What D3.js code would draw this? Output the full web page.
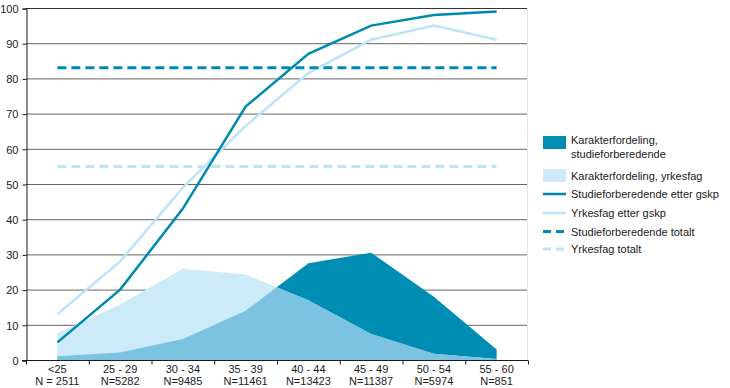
<!DOCTYPE html>
<html><head><meta charset="utf-8">
<script src="https://cdn.jsdelivr.net/npm/d3@7"></script>
<style>body{margin:0;background:#fff}svg{display:block}text{font-family:"Liberation Sans",Arial,sans-serif;fill:#1a1a1a}</style>
</head><body><svg id="c" width="730" height="388"></svg>
<script>
const categories = ["<25","25 - 29","30 - 34","35 - 39","40 - 44","45 - 49","50 - 54","55 - 60"];
const nLabels = ["N = 2511","N=5282","N=9485","N=11461","N=13423","N=11387","N=5974","N=851"];
const distStudie = [1.1, 2.1, 6, 14, 27.5, 30.5, 18, 3];
const distYrkes = [7.6, 15.8, 25.9, 24.3, 17, 7.4, 1.8, 0.3];
const studieEtter = [5, 20, 43, 72, 87, 95, 98, 99];
const yrkesEtter = [13, 28, 49, 66.5, 81.5, 91, 95, 91];
const studieTotalt = 83;
const yrkesTotalt = 55;
const yTicks = [0,10,20,30,40,50,60,70,80,90,100];

const C = {dark:"#008db3", light:"#cdeaf8", mid:"#7cc3e2", lineDark:"#0088b0", lineLight:"#bde3f6"};
const svg = d3.select("#c");
const x = d3.scaleBand().domain(categories).range([26, 528]);
const y = d3.scaleLinear().domain([0,100]).range([360, 8]);
const cx = d => x(d) + x.bandwidth()/2;

// gridlines
svg.append("g").selectAll("line").data(yTicks.filter(t=>t>0)).join("line")
  .attr("x1", 26).attr("x2", 528).attr("y1", d=>y(d)+0.5).attr("y2", d=>y(d)+0.5)
  .attr("stroke", d => d===100 ? "#333" : "#666").attr("stroke-width", 1);
svg.append("line").attr("x1",527.5).attr("x2",527.5).attr("y1",8).attr("y2",360).attr("stroke","#e4e4e4");

// areas
const area = arr => d3.area().x((d,i)=>cx(categories[i])).y0(y(0)).y1(d=>y(d))(arr);
svg.append("defs").append("clipPath").attr("id","clipDark").append("path").attr("d", area(distStudie));
svg.append("path").attr("d", area(distStudie)).attr("fill", C.dark);
svg.append("path").attr("d", area(distYrkes)).attr("fill", C.light);
svg.append("path").attr("d", area(distYrkes)).attr("fill", C.mid).attr("clip-path","url(#clipDark)");

// axes
const yAxis = d3.axisLeft(y).tickValues(yTicks).tickSize(4).tickPadding(4);
const gy = svg.append("g").attr("transform","translate(26.5,0.5)").call(yAxis);
gy.select(".domain").attr("stroke","#1a1a1a");
gy.selectAll(".tick line").attr("stroke","#1a1a1a");
gy.selectAll("text").attr("font-size",11).style("fill","#1a1a1a").attr("dy","0.35em");

const gx = svg.append("g").attr("transform","translate(0,360.5)");
gx.append("line").attr("x1",22).attr("x2",528).attr("stroke","#1a1a1a");
gx.selectAll("line.tk").data(d3.range(categories.length+1)).join("line").attr("class","tk")
  .attr("x1", i=>26.5 + i*x.step()).attr("x2", i=>26.5 + i*x.step()).attr("y1",0).attr("y2",4).attr("stroke","#1a1a1a");
const xl = gx.selectAll("text").data(categories).join("text")
  .attr("text-anchor","middle").attr("font-size",11).attr("x", d=>cx(d));
xl.append("tspan").attr("x", d=>cx(d)).attr("y", 12.5).text(d=>d);
xl.append("tspan").attr("x", d=>cx(d)).attr("y", 24.5).text((d,i)=>nLabels[i]);

// lines
const line = d3.line().x((d,i)=>cx(categories[i])).y(d=>y(d));
svg.append("path").attr("d", line(yrkesEtter)).attr("fill","none").attr("stroke",C.lineLight).attr("stroke-width",2.5);
svg.append("path").attr("d", line(studieEtter)).attr("fill","none").attr("stroke",C.lineDark).attr("stroke-width",2.5);
const x0 = cx(categories[0]), x1 = cx(categories[categories.length-1]);
svg.append("line").attr("x1",x0).attr("x2",x1).attr("y1",y(yrkesTotalt)).attr("y2",y(yrkesTotalt))
  .attr("stroke",C.lineLight).attr("stroke-width",3).attr("stroke-dasharray","9,5");
svg.append("line").attr("x1",x0).attr("x2",x1).attr("y1",y(studieTotalt)).attr("y2",y(studieTotalt))
  .attr("stroke",C.lineDark).attr("stroke-width",3).attr("stroke-dasharray","9,5");

// legend
const lg = svg.append("g");
lg.append("rect").attr("x",543).attr("y",136).attr("width",23).attr("height",13).attr("fill",C.dark);
lg.append("text").attr("x",571).attr("y",144).attr("font-size",11).text("Karakterfordeling,");
lg.append("text").attr("x",571).attr("y",158).attr("font-size",11).text("studieforberedende");
lg.append("rect").attr("x",543).attr("y",169).attr("width",23).attr("height",13).attr("fill",C.light);
lg.append("text").attr("x",571).attr("y",179.5).attr("font-size",11).text("Karakterfordeling, yrkesfag");
const legLines = [
  {y:194, c:C.lineDark, dash:null, t:"Studieforberedende etter gskp"},
  {y:213, c:C.lineLight, dash:null, t:"Yrkesfag etter gskp"},
  {y:231.5, c:C.lineDark, dash:"8,5", t:"Studieforberedende totalt"},
  {y:249, c:C.lineLight, dash:"8,5", t:"Yrkesfag totalt"}
];
legLines.forEach(l=>{
  lg.append("line").attr("x1",543).attr("x2",566).attr("y1",l.y).attr("y2",l.y).attr("stroke",l.c)
    .attr("stroke-width",l.dash?3:2.5).attr("stroke-dasharray",l.dash);
  lg.append("text").attr("x",571).attr("y",l.y+4).attr("font-size",11).text(l.t);
});
</script></body></html>
